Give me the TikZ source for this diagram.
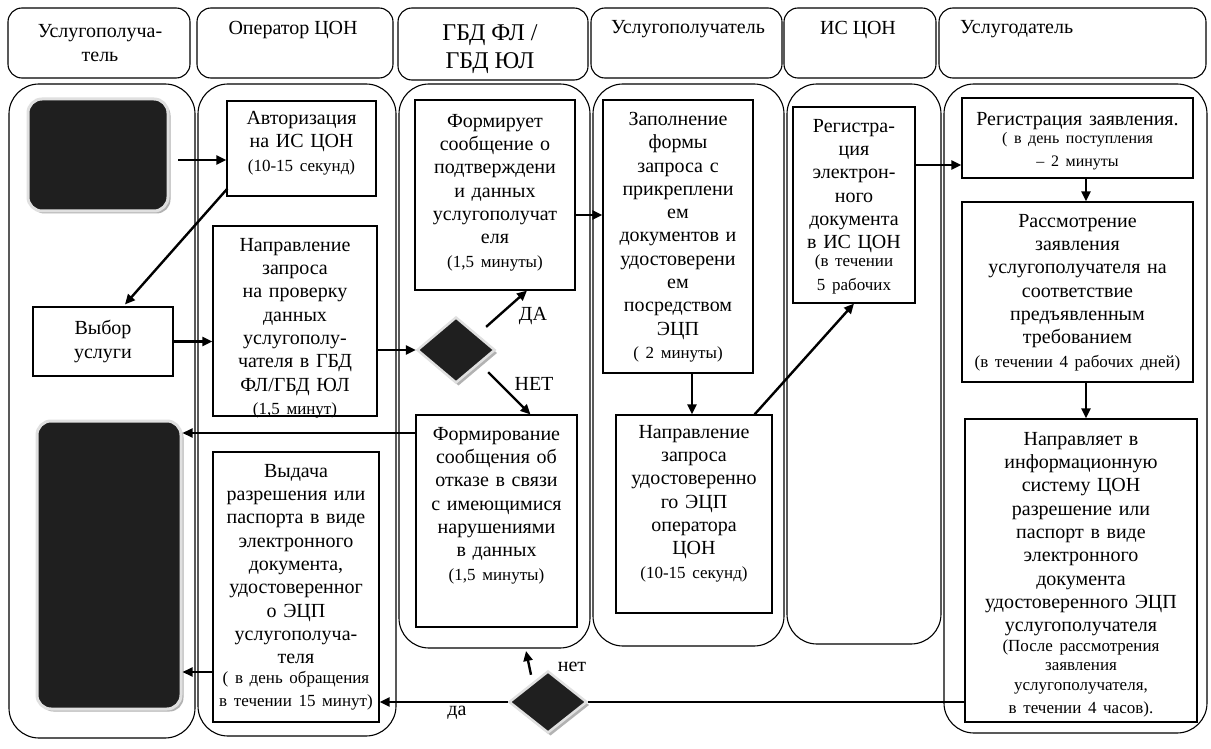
\documentclass[tikz,border=0pt]{standalone}
\usepackage{fontspec}
\setmainfont{Liberation Serif}
\usetikzlibrary{shapes.geometric,arrows.meta,fit,calc,shadows}
\newcommand\mtxt{\fontsize{20}{23.3}\selectfont}
\newcommand\smtxt{\fontsize{17}{19.5}\selectfont}
\begin{document}
\begin{tikzpicture}[x=1pt,y=-1pt,
  lane/.style={draw, line width=1.1pt, rounded corners=30pt},
  hdr/.style={draw, line width=1.1pt, rounded corners=14pt, inner sep=0pt},
  box/.style={draw, line width=1.1pt, inner sep=0pt},
  blk/.style={fill=black!88, draw=black!12, line width=3pt, rounded corners=14pt, inner sep=0pt,
    drop shadow={shadow xshift=2.5pt, shadow yshift=-2.5pt, fill=black!30, opacity=1}},
  dia/.style={diamond, fill=black!88, draw=black!12, line width=2.5pt, inner sep=0pt, minimum width=78pt, minimum height=66pt,
    drop shadow={shadow xshift=2.5pt, shadow yshift=-3pt, fill=black!30, opacity=1}},
  txt/.style={inner sep=0pt, align=center, font=\mtxt},
  btxt/.style={inner sep=0pt, align=center, font=\mtxt, anchor=north, text width=185pt},
  arr/.style={line width=2.4pt, -{Triangle[length=10pt,width=9pt]}},
  ln/.style={line width=2.4pt},
]
\fill[white] (0,0) rectangle (1211,749);
\useasboundingbox (0,0) rectangle (1211,749);

% headers
\node[hdr, fit={(8,8)(190,78)}] (h1) {};
\node[hdr, fit={(197,8)(393,78)}] (h2) {};
\node[hdr, fit={(398,8)(588,80)}] (h3) {};
\node[hdr, fit={(591,8)(782,78)}] (h4) {};
\node[hdr, fit={(784,8)(936,78)}] (h5) {};
\node[hdr, fit={(939,8)(1206,78)}] (h6) {};
\node[txt] at (100,43) {Услугополуча-\\тель};
\node[txt] at (293,30) {Оператор ЦОН};
\node[txt, font=\fontsize{24}{28.5}\selectfont] at (490,49) {ГБД ФЛ /\\ГБД ЮЛ};
\node[txt] at (688,29) {Услугополучатель};
\node[txt] at (858,30) {ИС ЦОН};
\node[txt, anchor=west] at (960,29) {Услугодатель};

% lanes
\draw[lane] (9,84) rectangle (195,738);
\draw[lane] (198,84) rectangle (396,736);
\draw[lane] (399,84) rectangle (590,648);
\draw[lane] (593,84) rectangle (784,646);
\draw[lane] (787,84) rectangle (941,644);
\draw[lane] (944,84) rectangle (1207,733);

% nodes
\node[blk, fit={(28,99)(168,211)}] (start) {};
\node[box, fit={(33,307)(173,376)}] (vybor) {};
\node[txt, text width=140pt] at (vybor.center) {Выбор\\услуги};

\node[box, fit={(227,101)(376,196)}] (auth) {};
\node[btxt] at (301.5,111) {Авторизация\\на ИС ЦОН\par\smtxt (10-15 секунд)};

\node[box, fit={(213,226)(377,416)}] (napr) {};
\node[btxt] at (295,238) {Направление\\запроса\\на проверку\\данных\\услугополу-\\чателя в ГБД\\ФЛ/ГБД ЮЛ\par\smtxt (1,5 минут)};

\node[box, fit={(213,452)(379,722)}] (vyd) {};
\node[btxt] at (296,464) {Выдача\\разрешения или\\паспорта в виде\\электронного\\документа,\\удостоверенног\\о ЭЦП\\услугополуча-\\теля\par\smtxt ( в день обращения\\в течении 15 минут)};

\node[blk, fit={(37,421)(181,709)}] (endb) {};

\node[box, fit={(415,100)(575,290)}] (form) {};
\node[btxt] at (495,114) {Формирует\\сообщение о\\подтверждени\\и данных\\услугополучат\\еля\par\smtxt (1,5 минуты)};

\node[dia] (d1) at (456,350) {};

\node[box, fit={(416,415)(577,627)}] (otkaz) {};
\node[btxt] at (496.5,427) {Формирование\\сообщения об\\отказе в связи\\с имеющимися\\нарушениями\\в данных\par\smtxt (1,5 минуты)};

\node[box, fit={(603,100)(753,373)}] (zap) {};
\node[btxt] at (678,112) {Заполнение\\формы\\запроса с\\прикреплени\\ем\\документов и\\удостоверени\\ем\\посредством\\ЭЦП\par\smtxt ( 2 минуты)};

\node[box, fit={(616,415)(772,613)}] (udost) {};
\node[btxt] at (694,425) {Направление\\запроса\\удостоверенно\\го ЭЦП\\оператора\\ЦОН\par\smtxt (10-15 секунд)};

\node[box, fit={(793,107)(915,303)}] (reg) {};
\node[btxt] at (854,119) {Регистра-\\ция\\электрон-\\ного\\документа\\в ИС ЦОН\par\fontsize{17}{18}\selectfont (в течении\\5 рабочих};

\node[box, fit={(962,98)(1193,178)}] (regz) {};
\node[btxt, text width=240pt] at (1077.5,112) {Регистрация заявления.\par\fontsize{16}{18}\selectfont ( в день поступления\\– 2 минуты};

\node[box, fit={(962,202)(1193,382)}] (rass) {};
\node[btxt, text width=240pt] at (1077.5,214) {Рассмотрение\\заявления\\услугополучателя на\\соответствие\\предъявленным\\требованием\par\smtxt (в течении 4 рабочих дней)};

\node[box, fit={(965,419)(1197,722)}] (napr6) {};
\node[btxt, text width=240pt] at (1081,432) {Направляет в\\информационную\\систему ЦОН\\разрешение или\\паспорт в виде\\электронного\\документа\\удостоверенного ЭЦП\\услугополучателя\par\smtxt (После рассмотрения\\заявления\\услугополучателя,\\в течении 4 часов).};

\node[dia, minimum width=78pt, minimum height=62pt] (d2) at (548,702) {};

% labels
\node[txt] (lda) at (533,316) {ДА};
\node[txt] (lnet) at (534,384) {НЕТ};
\node[txt] (lnet2) at (572,667) {нет};
\node[txt] (lda2) at (457,713) {да};

% connectors
\coordinate (a1) at (178,160);
\draw[arr] (a1) -- (a1 -| auth.west);
\draw[arr] ($(auth.south west)+(1,-8)$) -- ($(vybor.north)+(22,-2)$);
\draw[arr] (vybor.east) -- (vybor.east -| napr.west);
\draw[arr] (napr.east |- d1.west) -- (d1.west);
\draw[arr] ($(d1.north east)+(10,-6)$) -- ($(form.south)+(32,0)$);
\draw[arr] ($(d1.south east)+(12,5)$) -- ($(otkaz.north)+(34,0)$);
\draw[arr] ($(form.east)+(0,20)$) -- ($(zap.west)+(0,-21.5)$);
\draw[arr] ($(zap.south)+(14,0)$) -- ($(udost.north)+(-2,0)$);
\draw[arr] ($(udost.north east)+(-18,0)$) -- (reg.south);
\draw[arr] ($(reg.east)+(0,-40)$) -- ($(regz.west)+(0,27)$);
\draw[arr] ($(regz.south)+(8.5,0)$) -- ($(rass.north)+(8.5,0)$);
\draw[arr] ($(rass.south)+(8.5,0)$) -- ($(napr6.north)+(5,0)$);
\draw[ln] ($(napr6.west)+(0,131.5)$) -- (d2.east);
\draw[arr] (d2.west) -- (d2.west -| vyd.east);
\coordinate (netend) at (526,651);
\draw[arr] ($(d2.north)+(-17,5)$) -- (netend);
\coordinate (o1) at ($(otkaz.west)+(0,-88)$);
\draw[arr, line width=1.8pt] (o1) -- (o1 -| endb.east);
\coordinate (v1) at ($(vyd.west)+(0,85)$);
\draw[arr, line width=1.8pt] (v1) -- (v1 -| endb.east);
\end{tikzpicture}
\end{document}
